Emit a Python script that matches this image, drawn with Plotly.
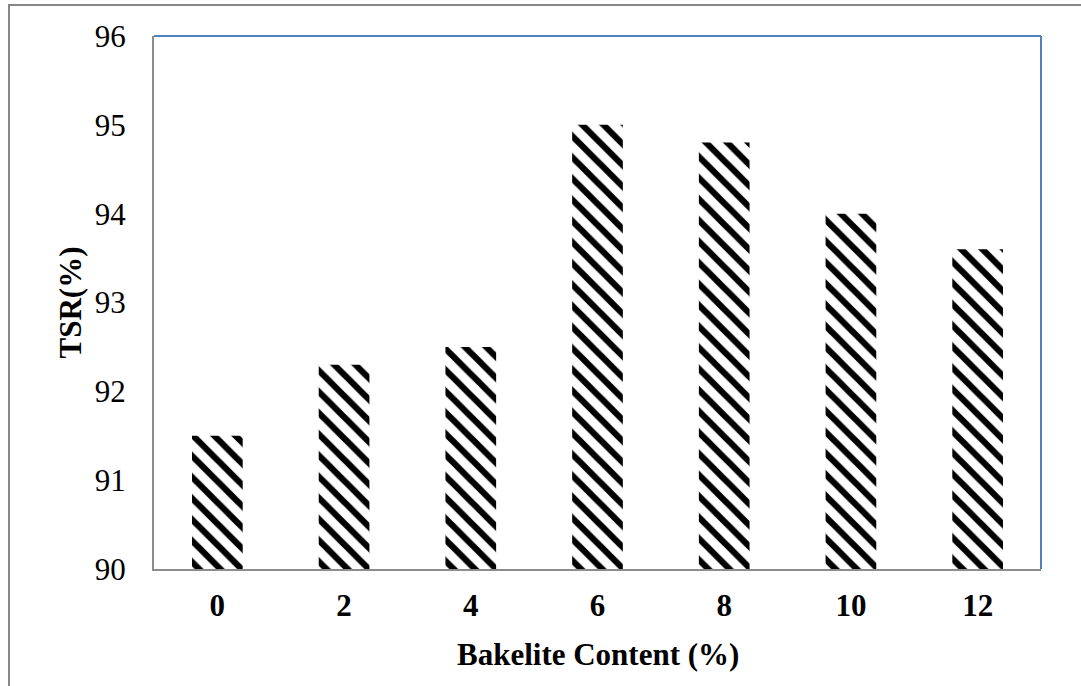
import plotly.graph_objects as go

categories = ["0", "2", "4", "6", "8", "10", "12"]
tsr_values = [91.5, 92.3, 92.5, 95.0, 94.8, 94.0, 93.6]
y_ticks = [90, 91, 92, 93, 94, 95, 96]

W, H = 1081, 686
L, R, T, B = 154, 40, 36, 117
pw, ph = W - L - R, H - T - B

def px_x(x):
    return (x - L) / pw

def px_y(y):
    return (H - B - y) / ph

fig = go.Figure(go.Bar(
    x=categories, y=tsr_values, width=0.4,
    marker=dict(color="white", line=dict(width=0),
                pattern=dict(shape="\\", fgcolor="black", bgcolor="white", fgopacity=1,
                             size=15, solidity=0.42, fillmode="overlay")),
))

serif = "Liberation Serif, Times New Roman, serif"
fig.update_layout(
    width=W, height=H,
    margin=dict(l=L, r=R, t=T, b=B, autoexpand=False),
    paper_bgcolor="white", plot_bgcolor="white",
    showlegend=False,
    font=dict(family=serif, color="black"),
    bargap=0.6,
)
fig.update_xaxes(
    type="category", showline=True, linecolor="#8C8C8C", linewidth=2,
    ticks="", showgrid=False, tickfont=dict(size=31, weight="bold", family=serif),
    ticklabelstandoff=8, automargin=False,
)
fig.update_yaxes(
    range=[90, 96], tickvals=y_ticks, showline=True, linecolor="#8C8C8C",
    linewidth=2, ticks="", showgrid=False, zeroline=False,
    tickfont=dict(size=31, family=serif), ticklabelstandoff=20, automargin=False,
)
# top and right blue plot-area border
fig.add_shape(type="line", xref="paper", yref="paper", x0=0, x1=1, y0=1, y1=1,
              line=dict(color="#4F81BD", width=2))
fig.add_shape(type="line", xref="paper", yref="paper", x0=1, x1=1, y0=0, y1=1,
              line=dict(color="#4F81BD", width=2))
# outer chart frame
fig.add_shape(type="rect", xref="paper", yref="paper",
              x0=px_x(9), x1=px_x(1100), y0=px_y(700), y1=px_y(5),
              line=dict(color="#878787", width=2), fillcolor="rgba(0,0,0,0)", layer="above")

fig.add_annotation(text="<b>Bakelite Content (%)</b>", xref="paper", yref="paper",
                   x=0.5, y=px_y(654), showarrow=False, xanchor="center", yanchor="middle",
                   font=dict(size=31, family=serif))
fig.add_annotation(text="<b>TSR(%)</b>", xref="paper", yref="paper",
                   x=px_x(70), y=0.5, textangle=-90, showarrow=False,
                   xanchor="center", yanchor="middle", font=dict(size=31, family=serif))

fig.write_html("out.html", config={"displayModeBar": False},
               post_script="document.body.style.margin='0';document.body.style.overflow='hidden';")
